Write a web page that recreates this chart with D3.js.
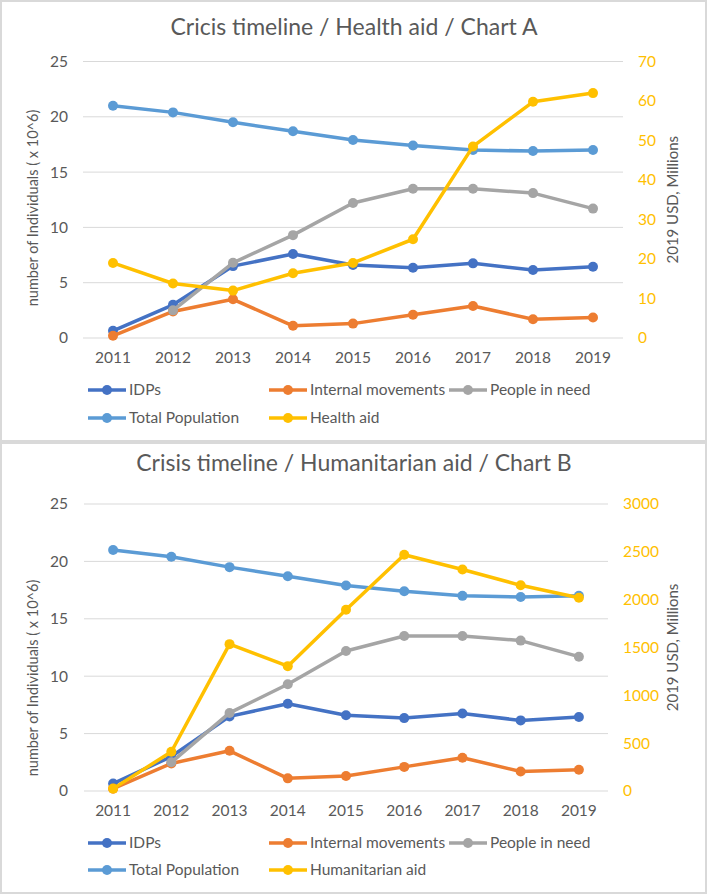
<!DOCTYPE html>
<html>
<head>
<meta charset="utf-8">
<script src="https://cdn.jsdelivr.net/npm/d3@7"></script>
<style>
  body { margin: 0; background: #fff; }
  svg { display: block; font-family: Lato, "Open Sans", sans-serif; }
  .tick-label { fill: #595959; font-size: 15.5px; }
  .title { fill: #595959; font-size: 23px; }
  .axis-title { fill: #595959; font-size: 15px; }
  .legend-label { fill: #595959; font-size: 15.5px; }
</style>
</head>
<body>
<svg id="chart" width="708" height="895"></svg>
<script>
// values
const years = [2011, 2012, 2013, 2014, 2015, 2016, 2017, 2018, 2019];
const idps = [0.65, 3.0, 6.5, 7.6, 6.6, 6.35, 6.75, 6.15, 6.45];
const internalMovements = [0.2, 2.4, 3.5, 1.1, 1.3, 2.1, 2.9, 1.7, 1.85];
const peopleInNeed = [null, 2.5, 6.8, 9.3, 12.2, 13.5, 13.5, 13.1, 11.7];
const totalPopulation = [21.0, 20.4, 19.5, 18.7, 17.9, 17.4, 17.0, 16.9, 17.0];
const healthAid = [19.0, 13.8, 12.0, 16.4, 19.0, 25.0, 48.5, 59.8, 62.0];
const humanitarianAid = [25, 410, 1535, 1305, 1895, 2470, 2315, 2150, 2020];

const leftTicks = [0, 5, 10, 15, 20, 25];
const healthTicks = [0, 10, 20, 30, 40, 50, 60, 70];
const humTicks = [0, 500, 1000, 1500, 2000, 2500, 3000];

const colors = {
  idps: "#4472C4",
  internal: "#ED7D31",
  need: "#A5A5A5",
  pop: "#5B9BD5",
  aid: "#FFC000"
};

const svg = d3.select("#chart");

function drawPanel(cfg) {
  const g = svg.append("g");

  // panel frame
  g.append("rect")
    .attr("x", 1).attr("y", cfg.top)
    .attr("width", 705).attr("height", cfg.height)
    .attr("fill", "#fff")
    .attr("stroke", "#d9d9d9")
    .attr("stroke-width", 2);

  g.append("text")
    .attr("class", "title")
    .attr("x", 354).attr("y", cfg.titleY)
    .attr("text-anchor", "middle")
    .text(cfg.title);

  const x = d3.scaleBand().domain(years).range([cfg.x0, cfg.x1]);
  const y = d3.scaleLinear().domain([0, 25]).range([cfg.yBottom, cfg.yTop]);
  const y2 = d3.scaleLinear().domain([0, cfg.rightMax]).range([cfg.yBottom, cfg.yTop]);
  const cx = d => x(d) + x.bandwidth() / 2;

  // gridlines
  g.append("g").selectAll("line")
    .data(leftTicks)
    .enter().append("line")
    .attr("x1", cfg.x0).attr("x2", cfg.x1)
    .attr("y1", d => y(d)).attr("y2", d => y(d))
    .attr("stroke", "#d9d9d9")
    .attr("stroke-width", 1);

  // left tick labels
  g.append("g").selectAll("text")
    .data(leftTicks)
    .enter().append("text")
    .attr("class", "tick-label")
    .attr("x", 68).attr("y", d => y(d))
    .attr("dy", "0.35em")
    .attr("text-anchor", "end")
    .text(d => d);

  // right tick labels
  g.append("g").selectAll("text")
    .data(cfg.rightTicks)
    .enter().append("text")
    .attr("class", "tick-label")
    .style("fill", colors.aid)
    .attr("x", cfg.rightLabelX).attr("y", d => y2(d))
    .attr("dy", "0.35em")
    .text(d => d);

  // x labels
  g.append("g").selectAll("text")
    .data(years)
    .enter().append("text")
    .attr("class", "tick-label")
    .attr("x", d => cx(d)).attr("y", cfg.yBottom + 20)
    .attr("dy", "0.35em")
    .attr("text-anchor", "middle")
    .text(d => d);

  // axis titles
  const midY = (cfg.yTop + cfg.yBottom) / 2;
  g.append("text")
    .attr("class", "axis-title")
    .style("font-size", cfg.leftTitleSize + "px")
    .attr("transform", `translate(33,${cfg.leftTitleY}) rotate(-90)`)
    .attr("dy", "0.35em")
    .attr("text-anchor", "middle")
    .text("number of Individuals ( x 10^6)");

  g.append("text")
    .attr("class", "axis-title")
    .attr("transform", `translate(673,${midY}) rotate(-90)`)
    .attr("dy", "0.35em")
    .attr("text-anchor", "middle")
    .text("2019 USD, Millions");

  const series = [
    { name: "IDPs", values: idps, color: colors.idps, scale: y },
    { name: "Internal movements", values: internalMovements, color: colors.internal, scale: y },
    { name: "People in need", values: peopleInNeed, color: colors.need, scale: y },
    { name: "Total Population", values: totalPopulation, color: colors.pop, scale: y },
    { name: cfg.aidName, values: cfg.aid, color: colors.aid, scale: y2 }
  ];

  series.forEach(s => {
    const pts = years.map((yr, i) => ({ yr, v: s.values[i] })).filter(p => p.v != null);
    const line = d3.line().x(p => cx(p.yr)).y(p => s.scale(p.v));
    const sg = g.append("g");
    sg.append("path")
      .datum(pts)
      .attr("d", line)
      .attr("fill", "none")
      .attr("stroke", s.color)
      .attr("stroke-width", 3.5)
      .attr("stroke-linejoin", "round");
    sg.selectAll("circle")
      .data(pts)
      .enter().append("circle")
      .attr("cx", p => cx(p.yr))
      .attr("cy", p => s.scale(p.v))
      .attr("r", 5)
      .attr("fill", s.color);
  });

  // legend
  const slots = [[88, 0], [269, 0], [449, 0], [88, 1], [269, 1]];
  series.forEach((s, i) => {
    const lx = slots[i][0];
    const ly = cfg.legendY + slots[i][1] * cfg.legendGap;
    const lg = g.append("g");
    lg.append("line")
      .attr("x1", lx).attr("x2", lx + 38)
      .attr("y1", ly).attr("y2", ly)
      .attr("stroke", s.color)
      .attr("stroke-width", 3.5);
    lg.append("circle")
      .attr("cx", lx + 19).attr("cy", ly)
      .attr("r", 5)
      .attr("fill", s.color);
    lg.append("text")
      .attr("class", "legend-label")
      .attr("x", lx + 41).attr("y", ly)
      .attr("dy", "0.35em")
      .text(s.name);
  });
}

drawPanel({
  top: 1, height: 440, titleY: 35,
  title: "Cricis timeline / Health aid / Chart A",
  x0: 83, x1: 623, yBottom: 338, yTop: 61.5,
  rightMax: 70, rightTicks: healthTicks, rightLabelX: 638,
  leftTitleY: 208, leftTitleSize: 14.5,
  aid: healthAid, aidName: "Health aid",
  legendY: 390, legendGap: 28
});

drawPanel({
  top: 443, height: 450, titleY: 471,
  title: "Crisis timeline / Humanitarian aid / Chart B",
  x0: 84, x1: 608, yBottom: 791, yTop: 504,
  rightMax: 3000, rightTicks: humTicks, rightLabelX: 623,
  leftTitleY: 678, leftTitleSize: 14.5,
  aid: humanitarianAid, aidName: "Humanitarian aid",
  legendY: 843, legendGap: 27
});
</script>
</body>
</html>
